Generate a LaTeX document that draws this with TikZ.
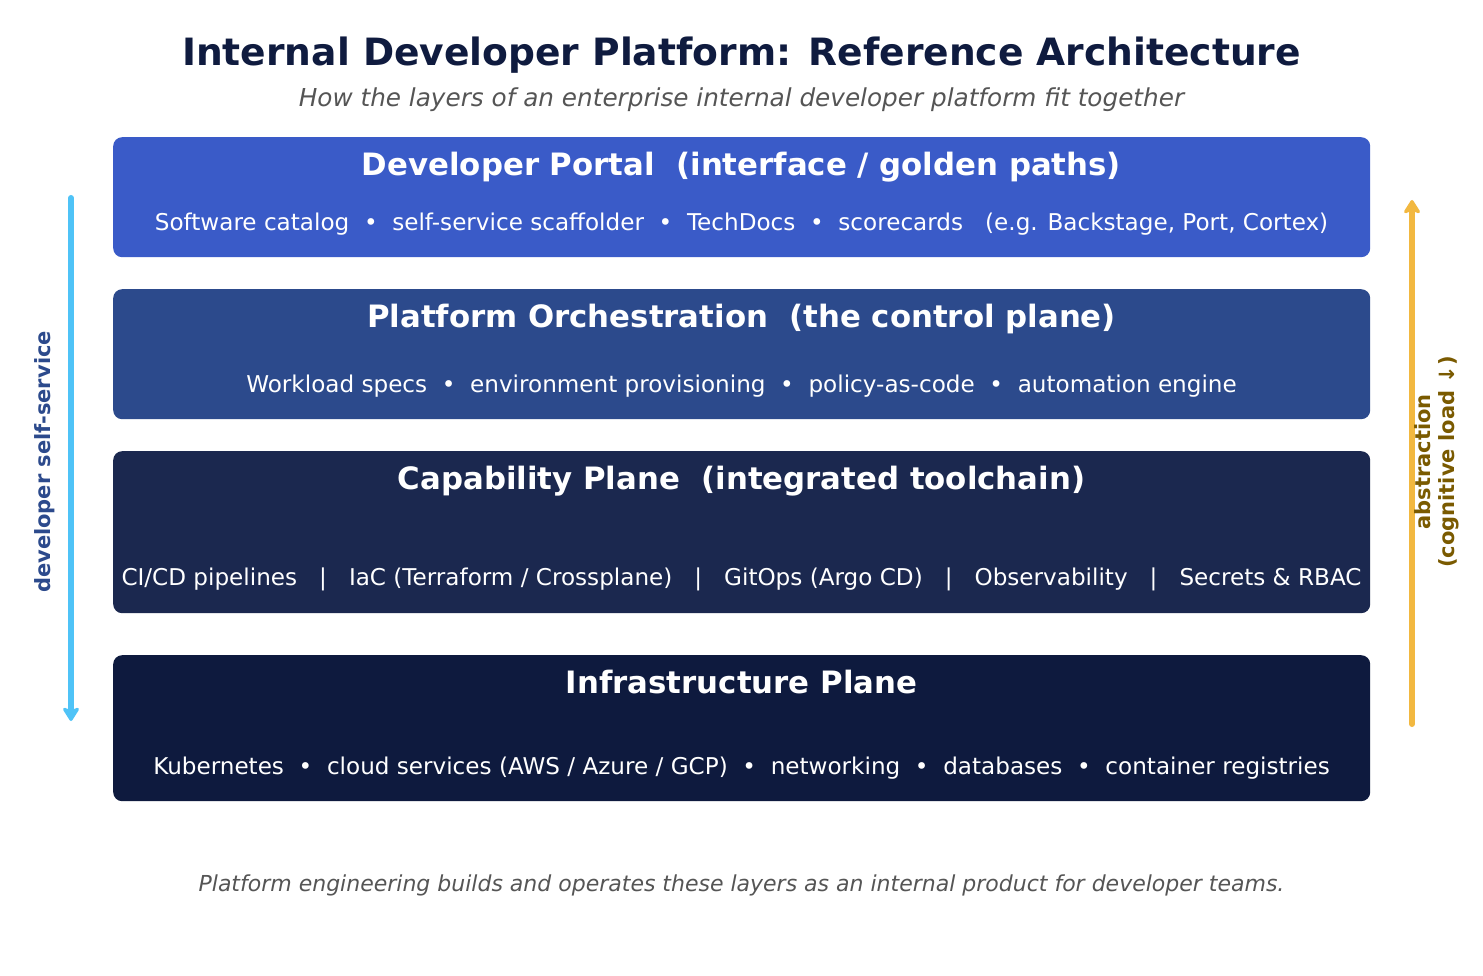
\documentclass[tikz,border=0pt]{standalone}
\usepackage{fontspec}
\setmainfont{DejaVu Sans}
\usetikzlibrary{arrows.meta}
\definecolor{navy}{HTML}{0F1B3F}
\definecolor{subgray}{HTML}{555555}
\definecolor{boxA}{HTML}{3A5BC8}
\definecolor{boxB}{HTML}{2C4A8C}
\definecolor{boxC}{HTML}{1B284F}
\definecolor{boxD}{HTML}{0E1A3E}
\definecolor{skyarrow}{HTML}{4FC3F7}
\definecolor{goldarrow}{HTML}{F2B840}
\definecolor{olive}{HTML}{7A5A00}
\tikzset{
  layer/.style={draw=none, rounded corners=9pt, anchor=north west, inner sep=0pt, minimum width=1257pt},
  ltitle/.style={anchor=base, text=white, font=\fontsize{30.8}{36}\selectfont\bfseries, inner sep=0pt},
  ltext/.style={anchor=base, text=white, font=\fontsize{23.1}{27}\selectfont, inner sep=0pt},
  sidelabel/.style={font=\fontsize{21}{24}\selectfont\bfseries, align=center, rotate=90, inner sep=0pt},
  sidearrow/.style={line width=6pt, line cap=round, -{Stealth[length=16pt,width=20pt,inset=4pt,round]}}
}
\begin{document}
\begin{tikzpicture}[x=1pt,y=-1pt]
\useasboundingbox[fill=white] (0,0) rectangle (1483,976);
\node[anchor=base, text=navy, font=\fontsize{37.6}{44}\selectfont\bfseries, inner sep=0pt] (title) at (741.5,66) {Internal Developer Platform: Reference Architecture};
\node[anchor=base, text=subgray, font=\fontsize{24.7}{29}\selectfont\itshape, inner sep=0pt] (subtitle) at (741.5,107) {How the layers of an enterprise internal developer platform fit together};

\node[layer, fill=boxA, minimum height=120pt] (portal) at (113,137) {};
\node[ltitle] (portalT) at (741.5,176) {Developer Portal\ \ (interface / golden paths)};
\node[ltext] (portalS) at (741.5,231) {Software catalog\ \ •\ \ self-service scaffolder\ \ •\ \ TechDocs\ \ •\ \ scorecards\ \ \ (e.g. Backstage, Port, Cortex)};

\node[layer, fill=boxB, minimum height=130pt] (orch) at (113,289) {};
\node[ltitle] (orchT) at (741.5,327) {Platform Orchestration\ \ (the control plane)};
\node[ltext] (orchS) at (741.5,392) {Workload specs\ \ •\ \ environment provisioning\ \ •\ \ policy-as-code\ \ •\ \ automation engine};

\node[layer, fill=boxC, minimum height=162pt] (cap) at (113,451) {};
\node[ltitle] (capT) at (741.5,489) {Capability Plane\ \ (integrated toolchain)};
\node[ltext] (capS) at (741.5,585) {CI/CD pipelines\ \ \ |\ \ \ IaC (Terraform / Crossplane)\ \ \ |\ \ \ GitOps (Argo CD)\ \ \ |\ \ \ Observability\ \ \ |\ \ \ Secrets \& RBAC};

\node[layer, fill=boxD, minimum height=146pt] (infra) at (113,655) {};
\node[ltitle] (infraT) at (741.5,693) {Infrastructure Plane};
\node[ltext] (infraS) at (741.5,774) {Kubernetes\ \ •\ \ cloud services (AWS / Azure / GCP)\ \ •\ \ networking\ \ •\ \ databases\ \ •\ \ container registries};

\coordinate (lTop) at (71,198);
\coordinate (lBot) at (71,721);
\draw[sidearrow, draw=skyarrow, fill=skyarrow] (lTop) -- (lBot);
\node[sidelabel, text=boxB] (lLab) at (45,462) {developer self-service};

\coordinate (rBot) at (1412,724);
\coordinate (rTop) at (1412,200);
\draw[sidearrow, draw=goldarrow, fill=goldarrow] (rBot) -- (rTop);
\node[sidelabel, text=olive] (rLab) at (1437,462) {abstraction\\(cognitive load ↓)};

\node[anchor=base, text=subgray, font=\fontsize{22}{26}\selectfont\itshape, inner sep=0pt] (foot) at (741.5,891) {Platform engineering builds and operates these layers as an internal product for developer teams.};
\end{tikzpicture}
\end{document}
